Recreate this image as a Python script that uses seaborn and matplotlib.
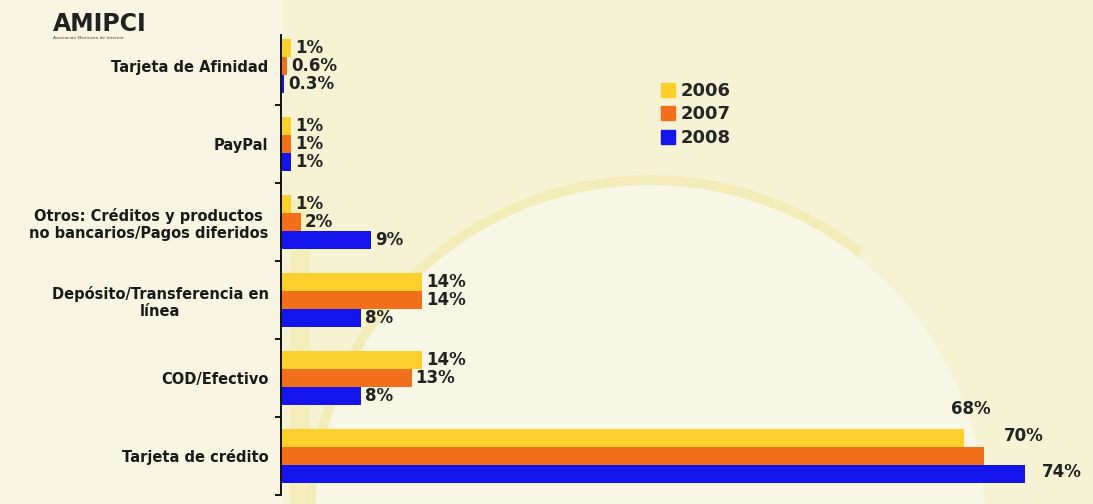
import matplotlib
matplotlib.use("Agg")
import matplotlib.pyplot as plt
import seaborn as sns
import pandas as pd
from matplotlib.lines import Line2D
from matplotlib.patches import Rectangle, Ellipse, Arc

# Formas de pago utilizadas en compras en línea (%)
categorias = [
    "Tarjeta de Afinidad",
    "PayPal",
    "Otros: Créditos y productos\nno bancarios/Pagos diferidos",
    "Depósito/Transferencia en\nlínea",
    "COD/Efectivo",
    "Tarjeta de crédito",
]
anios = ["2006", "2007", "2008"]
valores_2006 = [1, 1, 1, 14, 14, 68]
valores_2007 = [0.6, 1, 2, 14, 13, 70]
valores_2008 = [0.3, 1, 9, 8, 8, 74]

colores = ["#FBCF2C", "#F26F1C", "#1414EC"]

filas = []
for anio, serie in zip(anios, [valores_2006, valores_2007, valores_2008]):
    for cat, v in zip(categorias, serie):
        filas.append({"categoria": cat, "anio": anio, "valor": v})
df = pd.DataFrame(filas)

sns.set_theme(style="white")
plt.rcParams["font.family"] = ["DejaVu Sans"]

W, H = 1093, 504
fig = plt.figure(figsize=(W / 100, H / 100), dpi=100)
fig.patch.set_facecolor("#F8F6E2")


def fx(x):
    return x / W


def fy(y):
    return 1 - y / H


# decorative background: warm panel, pale disc with a soft yellow rim
fig.patches.append(Rectangle((fx(283), 0), 1 - fx(283), 1, transform=fig.transFigure,
                             facecolor="#F6F3D4", edgecolor="none", zorder=-4))
fig.patches.append(Rectangle((fx(290), 0), fx(20), fy(200), transform=fig.transFigure,
                             facecolor="#F2EA9E", edgecolor="none", alpha=0.45, zorder=-3))
fig.patches.append(Ellipse((fx(650), fy(520)), 2 * 335 / W, 2 * 335 / H,
                           transform=fig.transFigure, facecolor="#F8F7E6",
                           edgecolor="none", zorder=-2))
fig.patches.append(Arc((fx(650), fy(520)), 2 * 340 / W, 2 * 340 / H,
                       theta1=70, theta2=200, transform=fig.transFigure,
                       edgecolor="#F2EDB8", linewidth=7, zorder=-1))

ax = fig.add_axes([281 / W, 1 - 495 / H, 1 - 281 / W, 468 / H])
ax.set_facecolor("none")

sns.barplot(
    data=df, x="valor", y="categoria", hue="anio", order=categorias,
    hue_order=anios, palette=colores, orient="h", width=0.69,
    saturation=1, ax=ax, legend=False, errorbar=None, linewidth=0,
)

ax.set_xlim(0, (W - 281) / 10.05)
ax.set_ylim(5.5, -0.5)
ax.set_xlabel("")
ax.set_ylabel("")
ax.set_xticks([])

for s in ["top", "right", "bottom"]:
    ax.spines[s].set_visible(False)
ax.spines["left"].set_color("#111111")
ax.spines["left"].set_linewidth(1.4)
ax.spines["left"].set_bounds(5.5, -0.4)

# category names on major ticks, separators on minor ticks
ax.set_yticks(range(len(categorias)))
ax.set_yticklabels(categorias, fontsize=10.5, fontweight="bold", color="#1a1a1a")
for lbl in ax.get_yticklabels():
    lbl.set_multialignment("center")
ax.tick_params(axis="y", which="major", length=0, pad=9)
ax.set_yticks([i + 0.5 for i in range(len(categorias))], minor=True)
ax.tick_params(axis="y", which="minor", length=4, width=1.4, color="#111111",
               direction="out", left=True)

# value labels next to each bar (pixel offsets)
desplaz = {
    (5, 0): (-13, 29),
    (5, 1): (19, 20),
    (5, 2): (17, 2),
}
for j, cont in enumerate(ax.containers):
    for i, patch in enumerate(cont.patches):
        v = patch.get_width()
        yc = patch.get_y() + patch.get_height() / 2
        dx, dy = desplaz.get((i, j), (4, 0))
        ax.annotate(f"{v:g}%", xy=(v, yc), xytext=(dx * 0.72, dy * 0.72),
                    textcoords="offset points", ha="left", va="center",
                    fontsize=12, fontweight="bold", color="#222222")

# legend
handles = [Line2D([0], [0], marker="s", linestyle="none", markersize=9.5,
                  markerfacecolor=c, markeredgecolor=c) for c in colores]
fig.legend(handles, anios, loc="upper left",
           bbox_to_anchor=(652 / W, 1 - 73 / H), frameon=False,
           prop={"weight": "bold", "size": 13}, handlelength=0.8,
           handletextpad=0.3, labelspacing=0.3, borderpad=0)

# logo
fig.text(53 / W, 1 - 31 / H, "AMIPCI", fontsize=17, fontweight="bold",
         color="#222222", ha="left", va="baseline")
fig.text(53 / W, 1 - 39 / H, "Asociación Mexicana de Internet", fontsize=3.2,
         color="#444444", ha="left", va="baseline")

fig.savefig("out.png", dpi=100, facecolor=fig.get_facecolor())
